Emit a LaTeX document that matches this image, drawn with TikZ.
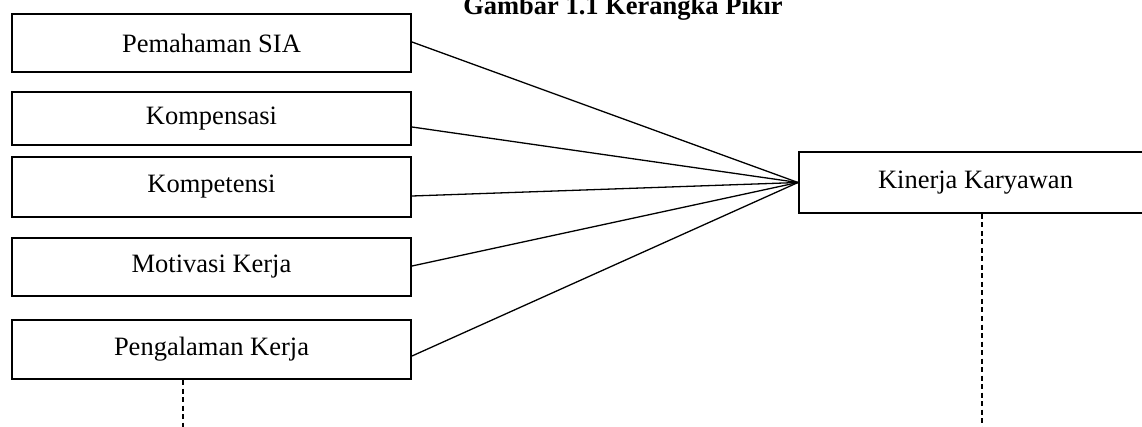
\documentclass[tikz,border=0pt]{standalone}
\usepackage{fontspec}
\setmainfont{Liberation Serif}
\begin{document}
\begin{tikzpicture}[x=1pt,y=-1pt,
  varbox/.style={draw,line width=2pt,inner sep=0pt,minimum width=399pt,
    font=\fontsize{26.5}{32}\selectfont},
  link/.style={line width=1.3pt},
  guide/.style={line width=1.3pt,dash pattern=on 5pt off 3.5pt}]
\useasboundingbox (0,0) rectangle (1142,427);

% title
\node[anchor=base,font=\fontsize{26.5}{32}\selectfont\bfseries] (title) at (623,14.7) {Gambar 1.1 Kerangka Pikir};

% independent variables
\node[varbox,minimum height=58pt] (b1) at (211.5,43) {Pemahaman SIA};
\node[varbox,minimum height=53pt] (b2) at (211.5,118.5) {Kompensasi};
\node[varbox,minimum height=60pt] (b3) at (211.5,187) {Kompetensi};
\node[varbox,minimum height=58pt] (b4) at (211.5,267) {Motivasi Kerja};
\node[varbox,minimum height=59pt] (b5) at (211.5,349.5) {Pengalaman Kerja};

% dependent variable
\node[varbox,minimum width=353pt,minimum height=61pt] (k) at (975.5,182.5) {Kinerja Karyawan};

% connectors
\draw[link] ([yshift=1pt]b1.east) -- (k.west);
\draw[link] ([yshift=-8.5pt]b2.east) -- (k.west);
\draw[link] ([yshift=-9pt]b3.east) -- (k.west);
\draw[link] ([yshift=1pt]b4.east) -- (k.west);
\draw[link] ([yshift=-6.5pt]b5.east) -- (k.west);

% dashed continuation lines
\coordinate (d1) at (183,427);
\coordinate (d2) at (982,427);
\draw[guide] (d1 |- b5.south) -- (d1);
\draw[guide] (d2 |- k.south) -- (d2);
\end{tikzpicture}
\end{document}
